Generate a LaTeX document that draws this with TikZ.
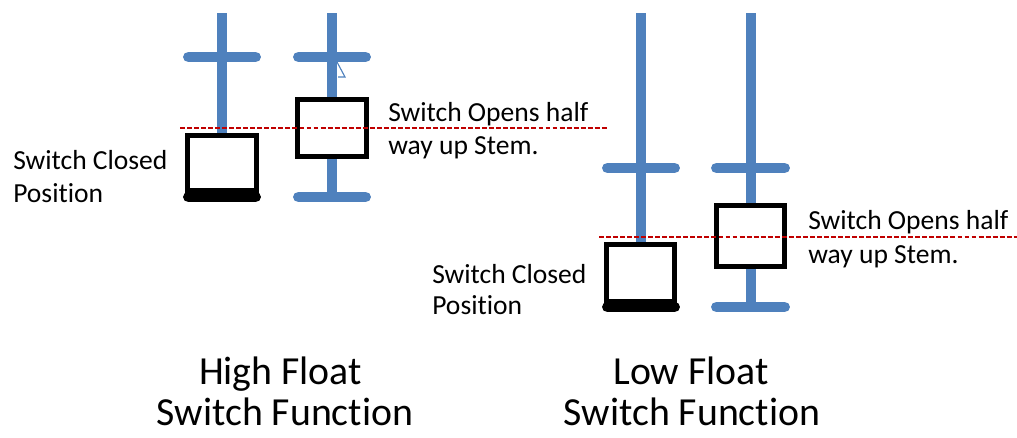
\documentclass[tikz,border=0pt]{standalone}
\usepackage{fontspec}
\setmainfont[Ligatures=NoCommon]{Carlito}
\definecolor{stemblue}{RGB}{79,129,189}
\definecolor{levelred}{RGB}{192,0,0}

\begin{document}
\begin{tikzpicture}[x=0.25mm,y=-0.25mm,
    stem/.style={stemblue,line width=7.8pt},
    bar/.style={stemblue,line width=7.8pt,line cap=round},
    seat/.style={black,line width=7.8pt,line cap=round},
    switchbox/.style={draw=black,fill=white,line width=3.4pt},
    level/.style={levelred,line width=1.4pt,dash pattern=on 3.5pt off 1.5pt},
    lbl/.style={font=\fontsize{19.6pt}{23.5pt}\selectfont,inner sep=0pt,anchor=base west},
    title/.style={font=\fontsize{28.3pt}{29pt}\selectfont,inner sep=0pt,anchor=base}]
  \useasboundingbox (0,0) rectangle (1017,437);

  % high float, closed
  \draw[stem] (222,13) -- (222,150);
  \draw[bar] (188.5,57) -- (255.5,57);
  \draw[switchbox] (187.3,135.3) rectangle (256.7,190.7);
  \draw[seat] (188.5,197) -- (255.5,197);
  % high float, open
  \draw[stem] (332,13) -- (332,197);
  \draw[bar] (298.5,57) -- (365.5,57);
  \draw[bar] (298.5,197) -- (365.5,197);
  \draw[stemblue,line width=0.8pt] (337,62) -- (345,77) -- (338,77);
  \draw[switchbox] (297.6,99.6) rectangle (366.4,156.4);
  \draw[level] (180,128) -- (607,128);
  \node[lbl] (opensA) at (388,121) {Switch Opens half};
  \node[lbl] (stemA) at (388,154) {way up Stem.};
  \node[lbl] (closedA) at (13,169) {Switch Closed};
  \node[lbl] (posA) at (13,202) {Position};

  % low float, closed
  \draw[stem] (641,13) -- (641,270);
  \draw[bar] (607.5,168) -- (674.5,168);
  \draw[switchbox] (606.6,244.6) rectangle (674.4,301.4);
  \draw[seat] (607.5,307) -- (674.5,307);
  % low float, open
  \draw[stem] (751,13) -- (751,307);
  \draw[bar] (716.5,168) -- (784.5,168);
  \draw[bar] (716.5,307) -- (784.5,307);
  \draw[switchbox] (716.6,205.6) rectangle (784.4,266.4);
  \draw[level] (599,237) -- (1017,237);
  \node[lbl] (opensB) at (808,229) {Switch Opens half};
  \node[lbl] (stemB) at (808,263) {way up Stem.};
  \node[lbl] (closedB) at (432,283) {Switch Closed};
  \node[lbl] (posB) at (432,314) {Position};

  % titles
  \node[title] (highA) at (280.5,384) {High Float};
  \node[title] (funcA) at (285,425) {Switch Function};
  \node[title] (lowB) at (691,384) {Low Float};
  \node[title] (funcB) at (692,425) {Switch Function};
\end{tikzpicture}
\end{document}
